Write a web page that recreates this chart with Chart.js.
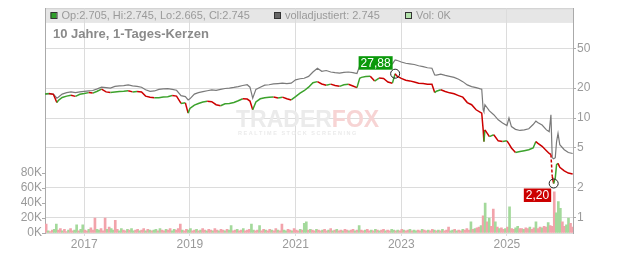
<!DOCTYPE html>
<html lang="de">
<head>
<meta charset="UTF-8" />
<title>10 Jahre, 1-Tages-Kerzen</title>
<style>
  html, body { margin: 0; padding: 0; background: #fff; }
  canvas { display: block; }
</style>
</head>
<body>
<script src="https://cdn.jsdelivr.net/npm/chart.js"></script>
<canvas id="chart" width="632" height="253"></canvas>
<script>
// price points, one row per year
const dates = [
  '2016-04-05','2016-05-01','2016-06-01','2016-06-25','2016-07-05','2016-08-01','2016-09-01','2016-10-01','2016-11-01','2016-12-01',
  '2017-01-01','2017-02-01','2017-03-01','2017-04-01','2017-05-01','2017-06-01','2017-07-01','2017-08-01','2017-09-01','2017-10-01','2017-11-01','2017-12-01',
  '2018-01-01','2018-02-01','2018-03-01','2018-04-01','2018-05-01','2018-06-01','2018-07-01','2018-08-01','2018-09-01','2018-10-01','2018-11-01','2018-12-01','2018-12-20',
  '2019-01-01','2019-02-01','2019-03-01','2019-04-01','2019-05-01','2019-06-01','2019-07-01','2019-08-01','2019-09-01','2019-10-01','2019-11-01','2019-12-01',
  '2020-01-01','2020-02-01','2020-02-20','2020-03-10','2020-04-01','2020-05-01','2020-06-01','2020-07-01','2020-08-01','2020-09-01','2020-10-01','2020-11-01','2020-12-01',
  '2021-01-01','2021-02-01','2021-03-01','2021-04-01','2021-05-01','2021-06-01','2021-07-01','2021-08-01','2021-09-01','2021-10-01','2021-11-01','2021-12-01',
  '2022-01-01','2022-02-01','2022-03-01','2022-03-20','2022-04-01','2022-05-01','2022-06-01','2022-07-01','2022-08-01','2022-09-01','2022-10-01','2022-11-01','2022-11-20','2022-12-01',
  '2023-01-01','2023-02-01','2023-03-01','2023-04-01','2023-05-01','2023-06-01','2023-07-01','2023-08-01','2023-08-20','2023-09-01','2023-10-01','2023-11-01','2023-12-01',
  '2024-01-01','2024-02-01','2024-03-01','2024-04-01','2024-05-01','2024-06-01','2024-07-01','2024-07-10','2024-07-20','2024-07-25','2024-08-01','2024-09-01','2024-10-01','2024-11-01','2024-12-01',
  '2025-01-01','2025-01-15','2025-02-01','2025-03-01','2025-04-01','2025-05-01','2025-06-01','2025-07-01','2025-07-20','2025-08-01','2025-09-01','2025-10-01','2025-10-20','2025-11-01','2025-11-10','2025-11-20','2025-12-01','2025-12-10','2025-12-20',
  '2026-01-01','2026-02-01','2026-03-01','2026-03-31'
]
const closes = [
  17.4, 17.6, 17.3, 14.3, 15.0, 16.1, 16.6, 16.9, 16.5, 17.3,
  17.6, 18.0, 17.8, 18.6, 19.5, 18.3, 18.0, 18.3, 18.5, 18.6, 18.8, 18.3,
  18.5, 18.3, 16.6, 16.2, 16.0, 16.0, 16.3, 16.4, 16.8, 16.6, 14.0, 14.2, 11.2,
  12.5, 13.5, 14.0, 14.5, 14.7, 14.6, 13.6, 13.3, 13.9, 14.0, 14.3, 14.9,
  15.6, 15.5, 14.8, 12.1, 14.5, 15.6, 16.0, 16.2, 16.3, 15.9, 16.2, 15.6, 15.2,
  16.4, 17.8, 18.8, 20.4, 22.6, 23.2, 22.0, 21.3, 21.9, 21.2, 20.8, 21.6,
  21.8, 21.0, 20.2, 25.1, 25.6, 26.1, 26.3, 23.5, 25.2, 25.0, 23.0, 22.4, 27.88, 26.5,
  25.0, 24.0, 23.6, 23.0, 22.4, 22.2, 21.9, 21.8, 18.0, 18.6, 19.2, 18.5, 17.9,
  17.5, 16.8, 16.2, 14.3, 13.6, 12.1, 11.4, 11.2, 7.6, 5.8, 7.6, 6.5, 6.8, 5.9, 5.8,
  5.9, 5.5, 5.0, 4.5, 4.6, 4.7, 4.8, 5.0, 5.8, 5.6, 5.2, 4.7, 4.4, 4.3, 2.6, 2.20, 2.5, 3.4, 3.5,
  3.2, 2.95, 2.8, 2.745
]
const adjusted = [
  17.4, 17.6, 17.4, 15.8, 16.2, 17.4, 18.0, 18.3, 18.0, 18.3,
  18.5, 18.7, 18.9, 19.6, 20.4, 20.2, 20.0, 20.8, 21.0, 21.2, 21.5, 21.0,
  20.8, 20.4, 19.2, 18.5, 18.7, 19.4, 19.6, 19.7, 19.4, 19.0, 16.8, 16.4, 15.2,
  15.6, 17.4, 18.0, 18.4, 18.8, 19.2, 19.0, 19.4, 19.8, 20.0, 20.3, 20.7,
  21.2, 21.6, 20.4, 15.8, 19.4, 20.4, 21.4, 21.6, 22.0, 22.2, 22.4, 22.2, 22.4,
  24.2, 24.8, 25.1, 26.2, 29.0, 31.6, 29.5, 30.0, 29.0, 28.6, 28.3, 28.8,
  29.0, 28.6, 28.0, 33.5, 34.5, 35.0, 35.5, 33.0, 35.0, 35.5, 34.0, 35.0, 38.3, 38.0,
  36.5, 35.5, 35.0, 34.5, 33.5, 32.8, 32.0, 31.6, 27.1, 27.0, 27.6, 26.8, 26.2,
  25.6, 24.5, 23.2, 21.5, 20.7, 20.2, 19.6, 19.5, 12.1, 11.6, 13.6, 11.8, 10.8, 9.6, 8.9,
  8.4, 10.0, 8.2, 7.7, 7.5, 7.6, 7.8, 8.6, 9.3, 9.0, 8.5, 7.6, 7.3, 10.8, 4.0, 3.9, 4.0, 5.8, 7.0,
  5.4, 4.8, 4.5, 4.4
]

// volume in K, one bar every two weeks, one row per year
const volStart = 2016.28
const volumes = [
  12, 3, 2, 4, 5, 12, 4, 6, 3, 5, 2, 4, 6, 3, 4, 11, 3, 5, 11, 4, 3, 5, 7, 4, 20, 5,
  4, 6, 3, 20, 5, 8, 6, 4, 17, 5, 3, 6, 4, 3, 5, 4, 6, 3, 4, 5, 3, 4, 6, 3, 5, 4,
  3, 4, 5, 3, 6, 4, 3, 5, 4, 6, 3, 5, 4, 6, 12, 4, 3, 5, 4, 6, 3, 4, 5, 3, 4, 6,
  4, 3, 5, 4, 3, 6, 4, 3, 5, 4, 3, 5, 4, 10, 3, 4, 5, 3, 4, 6, 3, 4, 5, 12, 4, 3,
  4, 10, 3, 5, 4, 3, 5, 4, 3, 6, 4, 3, 12, 4, 3, 5, 4, 3, 6, 4, 3, 5, 4, 13, 15, 4,
  5, 4, 3, 5, 4, 3, 4, 5, 3, 4, 6, 3, 4, 5, 3, 4, 3, 5, 4, 3, 4, 5, 3, 4, 10, 4,
  3, 4, 5, 3, 4, 3, 5, 4, 3, 4, 5, 3, 4, 3, 5, 4, 3, 4, 3, 5, 4, 3, 4, 5, 3, 4,
  3, 4, 3, 5, 4, 3, 4, 3, 5, 4, 3, 4, 3, 5, 3, 4, 8, 3, 4, 5, 3, 4, 3, 5, 4, 6,
  4, 15, 5, 6, 7, 8, 10, 23, 40, 15, 20, 9, 32, 15, 8, 6, 7, 5, 6, 8, 35, 6, 5, 7, 9, 6,
  6, 5, 7, 6, 8, 5, 7, 15, 6, 8, 7, 9, 8, 14, 10, 9, 55, 27, 42, 33, 15, 9, 11, 20, 13, 8
]
// u = up day (green), d = down day (red)
const volDir = [
  'duddu uddud duddu uduud duddd u',
  'udddu duudd uuddu duudd uddud u',
  'duudu ddudd uuddd udduu ddudu d',
  'duddu ddudd uduud duddu ddduu d',
  'duddu ddudd udduu ddudd duduu d',
  'uddud duddu dudud duddu ddudu d',
  'duddu dudud duddu ududd uddud u',
  'uddud duddu dudud dduud uddud d',
  'dudud dudud uddud uddud udduu d',
  'duddu ddudd uddud dduuu dduud d'
].join('').replace(/ /g, '')

const yearTicks = [2017, 2019, 2021, 2023, 2025]
const priceTicks = [1, 2, 5, 10, 20, 50]
const volTicks = [0, 20, 40, 60, 80]

const header = {
  ohlc: 'Op:2.705, Hi:2.745, Lo:2.665, Cl:2.745',
  adj: 'volladjustiert: 2.745',
  vol: 'Vol: 0K',
  title: '10 Jahre, 1-Tages-Kerzen'
}

const toYear = (s) => {
  const [y, m, d] = s.split('-').map(Number)
  return y + (Date.UTC(y, m - 1, d) - Date.UTC(y, 0, 1)) / (365.25 * 864e5)
}

const FONT = "'Liberation Sans', Arial, sans-serif"
const GREEN = '#3ca22c'
const RED = '#cc0000'

const closeData = dates.map((d, i) => ({ x: toYear(d), y: closes[i] }))
const adjData = dates.map((d, i) => ({ x: toYear(d), y: adjusted[i] }))
const volData = volumes.map((v, i) => ({ x: volStart + i / 26, y: v }))
const volColors = volumes.map((v, i) => (volDir[i] === 'u' ? '#a3d99b' : '#f2a3ab'))

const fmt = (v) => v.toFixed(2).replace('.', ',')

const decor = {
  id: 'decor',
  beforeDraw(chart) {
    const { ctx, chartArea: a } = chart
    ctx.save()
    ctx.fillStyle = '#e6e6e6'
    ctx.fillRect(a.left, a.top, a.right - a.left, 14.7)
    ctx.strokeStyle = '#cfcfcf'
    ctx.lineWidth = 1
    ctx.beginPath()
    ctx.moveTo(a.left, a.top + 0.5)
    ctx.lineTo(a.right, a.top + 0.5)
    ctx.stroke()
    ctx.restore()
  },
  beforeDatasetsDraw(chart) {
    const { ctx } = chart
    ctx.save()
    ctx.font = 'bold 23px ' + FONT
    ctx.textBaseline = 'alphabetic'
    ctx.fillStyle = '#ebebeb'
    ctx.fillText('TRADER', 236, 127)
    const w = ctx.measureText('TRADER').width
    ctx.fillStyle = '#f7d4d4'
    ctx.fillText('FOX', 236 + w, 127)
    ctx.font = 'bold 5.5px ' + FONT
    ctx.fillStyle = '#ebebeb'
    ctx.fillText('R E A L T I M E   S T O C K   S C R E E N I N G', 238, 135)
    ctx.restore()
  },
  afterDatasetsDraw(chart) {
    const { ctx, scales } = chart
    const x = scales.x
    const p = scales.price
    ctx.save()

    // header legend
    ctx.font = '11px ' + FONT
    ctx.textBaseline = 'middle'
    ctx.lineWidth = 1
    const items = [
      [50.5, '#2f9e2a', header.ohlc],
      [274, '#666666', header.adj],
      [405, '#b3e2ab', header.vol]
    ]
    items.forEach(([lx, col, txt]) => {
      ctx.fillStyle = col
      ctx.fillRect(lx, 12.5, 6, 6)
      ctx.strokeStyle = '#333'
      ctx.strokeRect(lx + 0.5, 12.5, 6, 6)
      ctx.fillStyle = '#9a9a9a'
      ctx.fillText(txt, lx + 11, 16)
    })

    ctx.font = 'bold 13px ' + FONT
    ctx.fillStyle = '#8a8a8a'
    ctx.fillText(header.title, 53, 34)

    // high / low markers
    const iMax = closes.indexOf(Math.max(...closes))
    const iMin = closes.indexOf(Math.min(...closes))
    const mark = (i, color, above) => {
      const px = x.getPixelForValue(closeData[i].x)
      const py = p.getPixelForValue(closeData[i].y)
      ctx.strokeStyle = '#222'
      ctx.beginPath()
      ctx.arc(px, py, 4.5, 0, Math.PI * 2)
      ctx.stroke()
      ctx.font = '12px ' + FONT
      const txt = fmt(closes[i])
      const w = ctx.measureText(txt).width + 4
      const h = 13.5
      const bx = px - 2.5 - w
      const by = above ? py - 4 - h : py + 5
      ctx.fillStyle = color
      ctx.fillRect(bx, by, w, h)
      ctx.fillStyle = '#fff'
      ctx.textAlign = 'center'
      ctx.fillText(txt, bx + w / 2, by + h / 2 + 0.5)
      ctx.textAlign = 'left'
    }
    mark(iMax, '#0a990a', true)
    mark(iMin, RED, false)
    ctx.restore()
  }
}

new Chart(document.getElementById('chart'), {
  data: {
    datasets: [
      {
        type: 'line',
        label: 'Kerzen',
        yAxisID: 'price',
        data: closeData,
        borderColor: GREEN,
        borderWidth: 1.5,
        pointRadius: 0,
        tension: 0,
        order: 1,
        segment: {
          borderColor: (c) => (c.p1.parsed.y >= c.p0.parsed.y ? GREEN : RED),
          borderDash: (c) => (c.p1.parsed.y < c.p0.parsed.y * 0.65 ? [3, 2] : undefined)
        }
      },
      {
        type: 'line',
        label: 'volladjustiert',
        yAxisID: 'price',
        data: adjData,
        borderColor: '#7a7a7a',
        borderWidth: 1.2,
        pointRadius: 0,
        tension: 0,
        order: 2
      },
      {
        type: 'bar',
        label: 'Vol',
        yAxisID: 'vol',
        data: volData,
        backgroundColor: volColors,
        barThickness: 2,
        order: 3
      }
    ]
  },
  options: {
    responsive: false,
    animation: false,
    layout: { padding: { top: 8 } },
    font: { family: FONT },
    plugins: { legend: { display: false }, tooltip: { enabled: false } },
    scales: {
      x: {
        type: 'linear',
        min: 2016.258,
        max: 2026.25,
        offset: false,
        afterFit: (s) => { s.height = 20 },
        afterBuildTicks: (s) => { s.ticks = yearTicks.map((v) => ({ value: v })) },
        ticks: { callback: (v) => String(v), color: '#9a9a9a', font: { family: FONT, size: 12 }, padding: 1, maxRotation: 0 },
        grid: { color: '#dcdcdc', tickLength: 3, offset: false },
        border: { color: '#dcdcdc' }
      },
      price: {
        type: 'logarithmic',
        position: 'right',
        min: 0.713,
        max: 126.8,
        afterFit: (s) => { s.width = 59 },
        afterBuildTicks: (s) => { s.ticks = priceTicks.map((v) => ({ value: v })) },
        ticks: { callback: (v) => String(v), color: '#9a9a9a', font: { family: FONT, size: 12 }, padding: 1 },
        grid: { color: '#dcdcdc', tickLength: 3, tickColor: '#aaa' },
        border: { color: '#aaa' }
      },
      vol: {
        type: 'linear',
        position: 'left',
        min: 0,
        max: 300,
        afterFit: (s) => { s.width = 45 },
        afterBuildTicks: (s) => { s.ticks = volTicks.map((v) => ({ value: v })) },
        ticks: { callback: (v) => v + 'K', color: '#9a9a9a', font: { family: FONT, size: 12 }, padding: 0 },
        grid: { drawOnChartArea: false, tickLength: 3, tickColor: '#aaa' },
        border: { color: '#aaa' }
      }
    }
  },
  plugins: [decor]
})
</script>
</body>
</html>
